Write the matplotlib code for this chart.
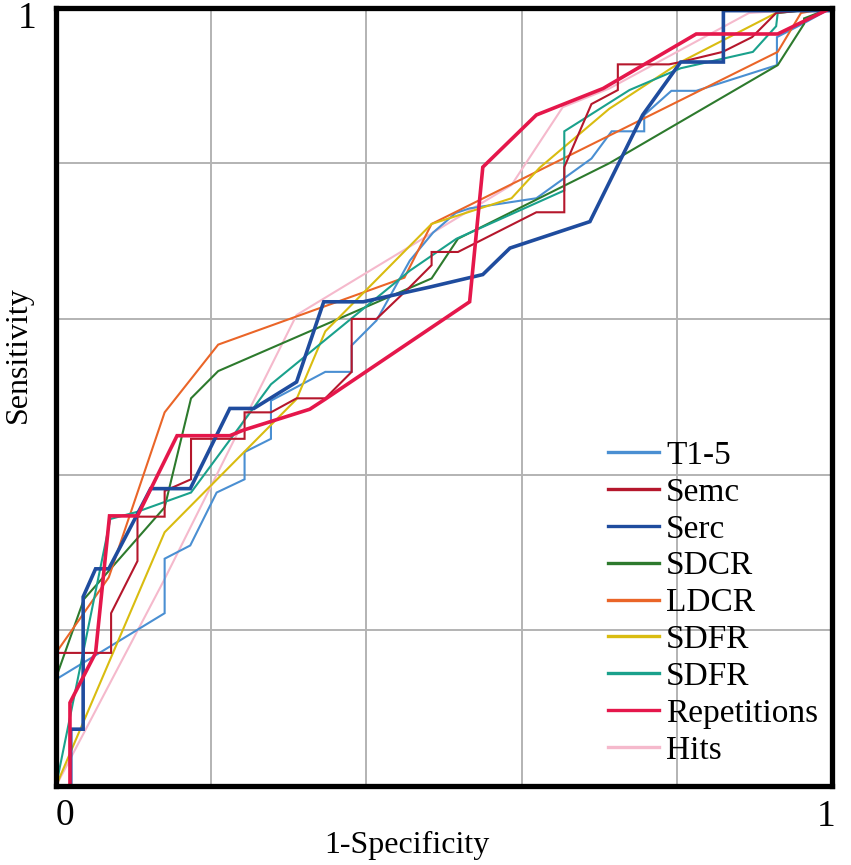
import numpy as np
import matplotlib
matplotlib.use("Agg")
import matplotlib.pyplot as plt

plt.rcParams['font.family'] = ['Liberation Serif', 'DejaVu Serif']

# ROC curves (x = 1-specificity, y = sensitivity)
t15_x = [0, 0, 0.140, 0.140, 0.173, 0.207, 0.243, 0.243, 0.277, 0.277, 0.347, 0.381, 0.381, 0.413, 0.456,
         0.486, 0.515, 0.533, 0.619, 0.690, 0.716, 0.758, 0.758, 0.793, 0.825, 0.929, 0.929, 0.964, 1]
t15_y = [0, 0.137, 0.222, 0.292, 0.309, 0.377, 0.394, 0.429, 0.446, 0.495, 0.532, 0.532, 0.566, 0.598, 0.675,
         0.711, 0.736, 0.742, 0.755, 0.806, 0.841, 0.841, 0.862, 0.893, 0.893, 0.926, 0.962, 0.980, 1]

semc_x = [0, 0, 0.071, 0.071, 0.105, 0.105, 0.140, 0.140, 0.174, 0.174, 0.243, 0.243, 0.277, 0.310, 0.347,
          0.381, 0.381, 0.413, 0.456, 0.484, 0.484, 0.518, 0.619, 0.655, 0.655, 0.690, 0.724, 0.724, 0.790,
          0.805, 0.859, 0.897, 0.928, 1]
semc_y = [0, 0.171, 0.171, 0.222, 0.289, 0.346, 0.346, 0.379, 0.394, 0.446, 0.446, 0.480, 0.480, 0.498, 0.498,
          0.532, 0.600, 0.600, 0.641, 0.669, 0.686, 0.686, 0.737, 0.737, 0.795, 0.876, 0.894, 0.927, 0.927,
          0.930, 0.943, 0.962, 0.993, 1]

serc_x = [0, 0.019, 0.019, 0.035, 0.035, 0.051, 0.068, 0.122, 0.173, 0.224, 0.255, 0.310, 0.345, 0.396,
          0.482, 0.550, 0.585, 0.688, 0.756, 0.805, 0.860, 0.860, 1]
serc_y = [0, 0, 0.073, 0.073, 0.243, 0.279, 0.279, 0.382, 0.382, 0.485, 0.485, 0.519, 0.622, 0.622,
          0.641, 0.657, 0.691, 0.725, 0.862, 0.930, 0.930, 0.996, 0.996]

sdcr_x = [0, 0, 0.036, 0.140, 0.174, 0.209, 0.484, 0.518, 0.713, 0.930, 0.964, 0.964, 1]
sdcr_y = [0, 0.139, 0.240, 0.358, 0.498, 0.533, 0.652, 0.703, 0.800, 0.926, 0.979, 0.986, 1]

ldcr_x = [0, 0, 0.068, 0.140, 0.209, 0.449, 0.484, 0.930, 0.960, 1]
ldcr_y = [0, 0.171, 0.268, 0.480, 0.567, 0.653, 0.722, 0.943, 0.993, 1]

sdfr_x = [0, 0.140, 0.310, 0.347, 0.484, 0.587, 0.623, 0.713, 0.805, 0.928, 1]
sdfr_y = [0, 0.326, 0.497, 0.584, 0.722, 0.755, 0.794, 0.870, 0.930, 0.993, 1]

sdfr2_x = [0, 0.070, 0.104, 0.174, 0.277, 0.456, 0.516, 0.655, 0.655, 0.739, 0.805, 0.898, 0.928, 0.930, 1]
sdfr2_y = [0, 0.343, 0.352, 0.377, 0.516, 0.662, 0.703, 0.765, 0.841, 0.894, 0.922, 0.943, 0.976, 0.993, 1]

rep_x = [0, 0.018, 0.018, 0.051, 0.069, 0.105, 0.156, 0.224, 0.241, 0.327, 0.347, 0.533, 0.550, 0.619,
         0.705, 0.825, 0.930, 1]
rep_y = [0, 0, 0.107, 0.171, 0.347, 0.347, 0.450, 0.450, 0.457, 0.484, 0.497, 0.622, 0.795, 0.862,
         0.896, 0.966, 0.966, 1]

hits_x = [0, 0.139, 0.310, 0.587, 0.653, 0.713, 0.893, 1]
hits_y = [0, 0.264, 0.605, 0.772, 0.872, 0.896, 0.993, 1]

labels = ['T1-5', 'Semc', 'Serc', 'SDCR', 'LDCR', 'SDFR', 'SDFR', 'Repetitions', 'Hits']
curves = [(t15_x, t15_y), (semc_x, semc_y), (serc_x, serc_y), (sdcr_x, sdcr_y), (ldcr_x, ldcr_y),
          (sdfr_x, sdfr_y), (sdfr2_x, sdfr2_y), (rep_x, rep_y), (hits_x, hits_y)]
colors = ['#4a8fd2', '#b5172c', '#1f4c9e', '#2d7a2d', '#ea6528', '#d9bc10', '#1aa18c', '#e5174b', '#f5b9cc']
widths = [1.5, 1.5, 2.6, 1.5, 1.5, 1.5, 1.5, 2.6, 1.5]
zorders = [2.1, 2.3, 2.4, 2.1, 2.1, 2.2, 2.2, 2.45, 2.0]

fig = plt.figure(figsize=(8.51, 8.65), dpi=100)
ax = fig.add_axes([0.0658, 0.0913, 0.9119, 0.9])

for (xs, ys), lab, c, lw, z in zip(curves, labels, colors, widths, zorders):
    ax.plot(xs, ys, color=c, lw=lw, label=lab, zorder=z, solid_joinstyle='miter')

ax.set_xlim(0, 1)
ax.set_ylim(0, 1)
ax.set_xticks(np.arange(0, 1.01, 0.2))
ax.set_yticks(np.arange(0, 1.01, 0.2))
ax.grid(True, color='#b3b3b3', lw=1.4)
ax.set_axisbelow(True)
ax.tick_params(length=0, labelbottom=False, labelleft=False)
for s in ax.spines.values():
    s.set_linewidth(3.8)
    s.set_color('black')

ax.text(0.012, -0.038, '0', transform=ax.transAxes, ha='center', va='center', fontsize=27)
ax.text(0.992, -0.040, '1', transform=ax.transAxes, ha='center', va='center', fontsize=27)
ax.text(-0.037, 0.986, '1', transform=ax.transAxes, ha='center', va='center', fontsize=27)

ax.text(0.452, -0.076, '1-Specificity', transform=ax.transAxes, ha='center', va='center', fontsize=23)
ax.text(-0.049, 0.554, 'Sensitivity', transform=ax.transAxes, ha='center', va='center',
        rotation=90, fontsize=23)

leg = ax.legend(loc='upper left', bbox_to_anchor=(0.711, 0.444), frameon=False, fontsize=24,
                handlelength=1.55, handletextpad=0.2, labelspacing=0.19, borderpad=0, borderaxespad=0)
for h in leg.get_lines():
    h.set_linewidth(2.4)

fig.savefig('out.png', dpi=100)
